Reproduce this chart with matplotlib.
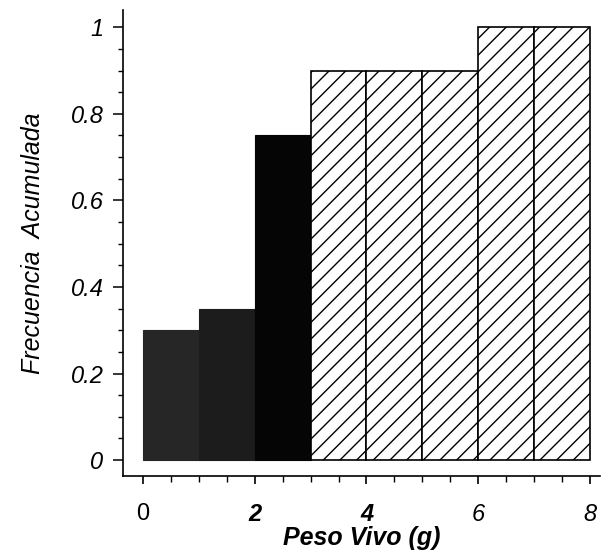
import matplotlib
matplotlib.use('Agg')
import matplotlib.pyplot as plt
import numpy as np

plt.rcParams['font.family'] = ['Liberation Sans', 'DejaVu Sans']
plt.rcParams['hatch.linewidth'] = 1.0

# Data: cumulative frequency per 1 g weight class
peso_left = [0, 1, 2, 3, 4, 5, 6, 7]
frecuencia = [0.30, 0.35, 0.75, 0.90, 0.90, 0.90, 1.00, 1.00]
x_ticks = [0, 2, 4, 6, 8]
y_ticks = [0, 0.2, 0.4, 0.6, 0.8, 1]
y_tick_labels = ['0', '0.2', '0.4', '0.6', '0.8', '1']

fig = plt.figure(figsize=(6.08, 5.53), dpi=100)
ax = fig.add_axes([0.202, 0.139, 0.785, 0.843])

dark_colors = ['#262626', '#1c1c1c', '#050505']
for i, (x0, h) in enumerate(zip(peso_left, frecuencia)):
    if i < 3:
        ax.bar(x0, h, width=1, align='edge', color=dark_colors[i],
               edgecolor=dark_colors[i], linewidth=0.8)
    else:
        ax.bar(x0, h, width=1, align='edge', color='white',
               edgecolor='black', hatch='//', linewidth=1.2)

ax.set_xlim(-0.36, 8.18)
ax.set_ylim(-0.037, 1.04)

ax.spines['top'].set_visible(False)
ax.spines['right'].set_visible(False)
ax.spines['left'].set_linewidth(1.2)
ax.spines['bottom'].set_linewidth(1.2)

ax.set_xticks(x_ticks)
ax.set_xticks(np.arange(0, 8.01, 0.5), minor=True)
ax.set_yticks(y_ticks)
ax.set_yticklabels(y_tick_labels)
ax.set_yticks(np.arange(0, 1.001, 0.05), minor=True)

ax.tick_params(axis='y', which='major', direction='out', length=7, width=1.1,
               labelsize=17, pad=7)
ax.tick_params(axis='y', which='minor', direction='out', length=3.5, width=1)
ax.tick_params(axis='x', which='major', direction='out', length=6, width=1.2,
               labelsize=17, pad=13)
ax.tick_params(axis='x', which='minor', direction='out', length=4, width=1)

for lab in ax.get_yticklabels():
    lab.set_fontstyle('italic')
for lab, t in zip(ax.get_xticklabels(), x_ticks):
    if t != 0:
        lab.set_fontstyle('italic')
    if t in (2, 4):
        lab.set_fontweight('bold')

ax.set_xlabel('Peso Vivo (g)', fontsize=18, fontweight='bold',
              fontstyle='italic', labelpad=0)
ax.set_ylabel('Frecuencia  Acumulada', fontsize=18, fontstyle='italic',
              labelpad=18)

fig.savefig('out.png', dpi=100)
